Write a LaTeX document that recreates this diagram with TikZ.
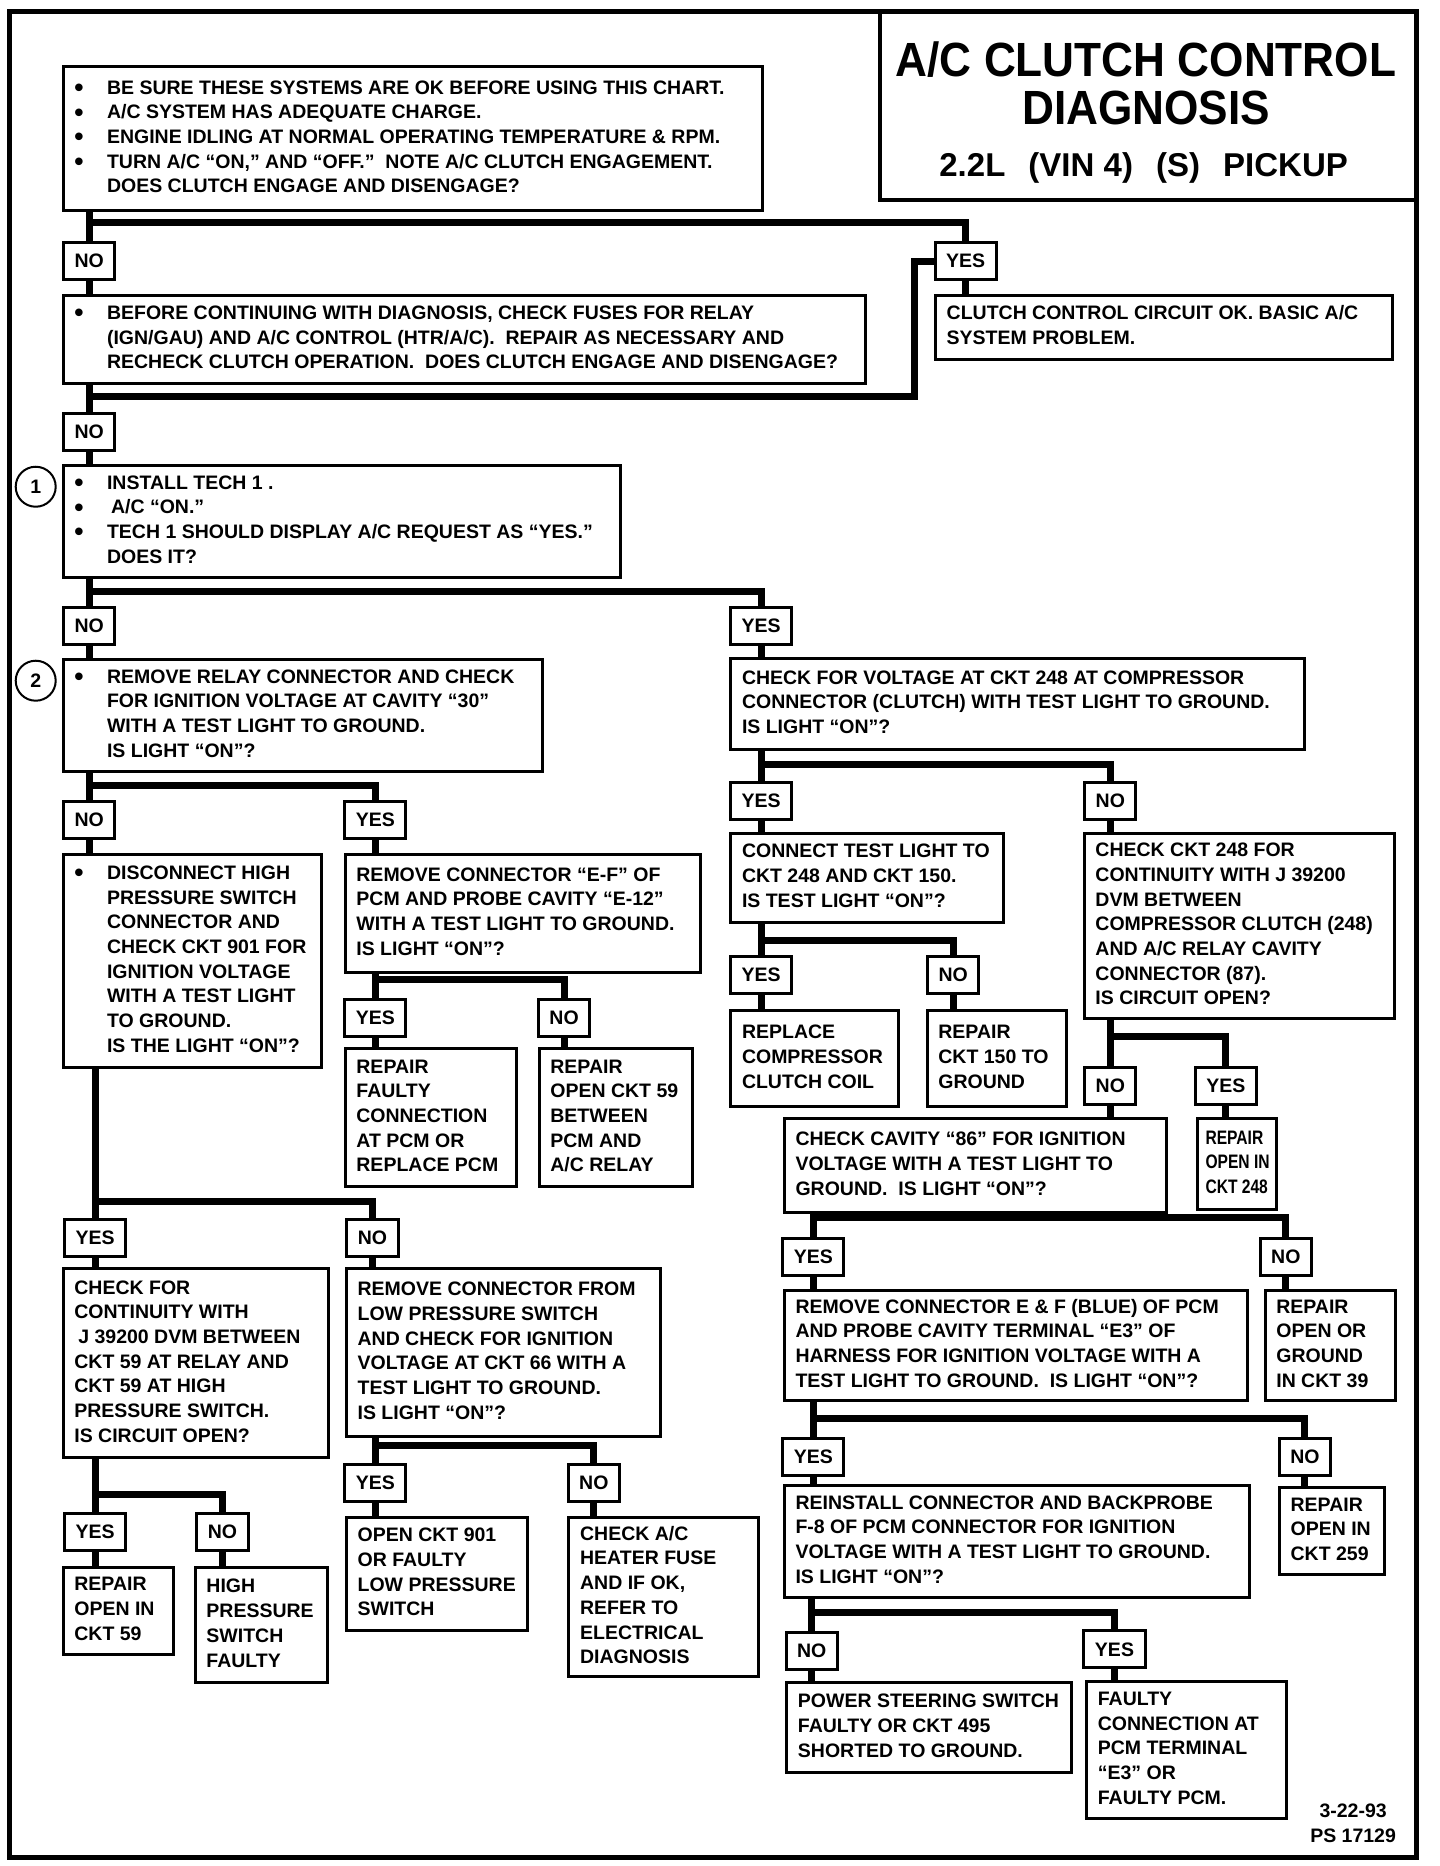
\documentclass[tikz,border=0pt]{standalone}
\usepackage{fontspec}
\setmainfont{Liberation Sans}
\newfontfamily\titlefont{Liberation Sans}[FakeStretch=0.92]
\newfontfamily\narrowfont{Liberation Sans}[FakeStretch=0.8]
\newcommand\nr[1]{{\narrowfont\bfseries #1}}
\newcommand\bl{\makebox[32.7pt][l]{\raisebox{-0.12em}{\scalebox{1.35}{\textbullet}}}}
\newcommand\ind{\hspace*{32.7pt}}
\newcommand\bx[6]{%
  \pgfmathsetmacro\bxw{(#4-#2)*1.19008}%
  \pgfmathsetmacro\bxh{(#5-#3)*1.19008}%
  \pgfmathsetmacro\bxt{\bxw-2*11.3}%
  \node[box,minimum width=\bxw pt,minimum height=\bxh pt] (#1) at ({(#2+#4)/2},{(#3+#5)/2})
    {\makebox[\bxt pt][l]{\begin{tabular}{@{}l@{}}#6\end{tabular}}};%
}
\newcommand\lbl[4]{\node[lab] (#1) at (#2,#3) {#4};}
\tikzset{
  box/.style={draw, line width=3pt, inner xsep=11.3pt, inner ysep=0pt, fill=white,
    font=\fontsize{19.5}{24.7}\selectfont\bfseries},
  lab/.style={draw, line width=3pt, inner xsep=11pt, inner ysep=0pt, minimum height=37pt,
    fill=white, font=\fontsize{19.5}{24.7}\selectfont\bfseries},
  conn/.style={line width=7pt},
}
\begin{document}
\begin{tikzpicture}[x=1.19008pt,y=-1.19008pt]
\useasboundingbox (0,0) rectangle (1210,1568);
\fill[white] (0,0) rectangle (1210,1568);
% outer frame and title
\draw[line width=5pt] (8,10) rectangle (1190,1561);
\node[draw, line width=4pt, minimum width=537pt, minimum height=189pt, inner sep=0pt] (titlebox) at (965,88.5) {};
\node[font=\titlefont\fontsize{48}{50}\selectfont\bfseries, inner sep=0pt] (tt1) at (963,50) {A/C CLUTCH CONTROL};
\node[font=\titlefont\fontsize{48}{50}\selectfont\bfseries, inner sep=0pt] (tt2) at (963,91) {DIAGNOSIS};
\node[font=\fontsize{33}{36}\selectfont\bfseries, inner sep=0pt] (tt3) at (961,141) {2.2L\hspace{0.7em}(VIN 4)\hspace{0.7em}(S)\hspace{0.7em}PICKUP};

% boxes
\bx{b1}{53}{56}{641}{177}{\bl BE SURE THESE SYSTEMS ARE OK BEFORE USING THIS CHART.\\
\bl A/C SYSTEM HAS ADEQUATE CHARGE.\\
\bl ENGINE IDLING AT NORMAL OPERATING TEMPERATURE \& RPM.\\
\bl TURN A/C “ON,” AND “OFF.”\ \ NOTE A/C CLUTCH ENGAGEMENT.\\
\ind DOES CLUTCH ENGAGE AND DISENGAGE?}
\bx{b2}{53}{248}{727}{322}{\bl BEFORE CONTINUING WITH DIAGNOSIS, CHECK FUSES FOR RELAY\\
\ind (IGN/GAU) AND A/C CONTROL (HTR/A/C).\ \ REPAIR AS NECESSARY AND\\
\ind RECHECK CLUTCH OPERATION.\ \ DOES CLUTCH ENGAGE AND DISENGAGE?}
\bx{ok}{786}{248}{1170}{302}{CLUTCH CONTROL CIRCUIT OK. BASIC A/C\\SYSTEM PROBLEM.}
\bx{b3}{53}{391}{521}{485}{\bl INSTALL TECH 1 .\\
\bl\hspace{4pt}A/C “ON.”\\
\bl TECH 1 SHOULD DISPLAY A/C REQUEST AS “YES.”\\
\ind DOES IT?}
\bx{b4}{53}{554}{456}{648}{\bl REMOVE RELAY CONNECTOR AND CHECK\\
\ind FOR IGNITION VOLTAGE AT CAVITY “30”\\
\ind WITH A TEST LIGHT TO GROUND.\\
\ind IS LIGHT “ON”?}
\bx{b5}{53}{718}{270}{897}{\bl DISCONNECT HIGH\\
\ind PRESSURE SWITCH\\
\ind CONNECTOR AND\\
\ind CHECK CKT 901 FOR\\
\ind IGNITION VOLTAGE\\
\ind WITH A TEST LIGHT\\
\ind TO GROUND.\\
\ind IS THE LIGHT “ON”?}
\bx{b6}{290}{718}{589}{817}{REMOVE CONNECTOR “E-F” OF\\PCM AND PROBE CAVITY “E-12”\\WITH A TEST LIGHT TO GROUND.\\IS LIGHT “ON”?}
\bx{b7}{290}{881}{434}{997}{REPAIR\\FAULTY\\CONNECTION\\AT PCM OR\\REPLACE PCM}
\bx{b8}{453}{881}{582}{997}{REPAIR\\OPEN CKT 59\\BETWEEN\\PCM AND\\A/C RELAY}
\bx{b9}{53}{1066}{276}{1225}{CHECK FOR\\CONTINUITY WITH\\\hspace{4pt}J 39200 DVM BETWEEN\\CKT 59 AT RELAY AND\\CKT 59 AT HIGH\\PRESSURE SWITCH.\\IS CIRCUIT OPEN?}
\bx{b10}{291}{1066}{555}{1207}{REMOVE CONNECTOR FROM\\LOW PRESSURE SWITCH\\AND CHECK FOR IGNITION\\VOLTAGE AT CKT 66 WITH A\\TEST LIGHT TO GROUND.\\IS LIGHT “ON”?}
\bx{b11}{53}{1317}{146}{1390}{REPAIR\\OPEN IN\\CKT 59}
\bx{b12}{164}{1317}{275}{1414}{HIGH\\PRESSURE\\SWITCH\\FAULTY}
\bx{b13}{291}{1275}{443}{1370}{OPEN CKT 901\\OR FAULTY\\LOW PRESSURE\\SWITCH}
\bx{b14}{478}{1275}{637}{1409}{CHECK A/C\\HEATER FUSE\\AND IF OK,\\REFER TO\\ELECTRICAL\\DIAGNOSIS}
\bx{b15}{614}{553}{1096}{630}{CHECK FOR VOLTAGE AT CKT 248 AT COMPRESSOR\\CONNECTOR (CLUTCH) WITH TEST LIGHT TO GROUND.\\IS LIGHT “ON”?}
\bx{b16}{614}{700}{843}{775}{CONNECT TEST LIGHT TO\\CKT 248 AND CKT 150.\\IS TEST LIGHT “ON”?}
\bx{b17}{911}{700}{1172}{856}{CHECK CKT 248 FOR\\CONTINUITY WITH J 39200\\DVM BETWEEN\\COMPRESSOR CLUTCH (248)\\AND A/C RELAY CAVITY\\CONNECTOR (87).\\IS CIRCUIT OPEN?}
\bx{b18}{614}{849}{755}{930}{REPLACE\\COMPRESSOR\\CLUTCH COIL}
\bx{b19}{779}{849}{896}{930}{REPAIR\\CKT 150 TO\\GROUND}
\bx{b20}{659}{940}{980}{1019}{CHECK CAVITY “86” FOR IGNITION\\VOLTAGE WITH A TEST LIGHT TO\\GROUND.\ \ IS LIGHT “ON”?}
\bx{b21}{1006}{940}{1073}{1016}{\hspace{-3pt}\nr{REPAIR}\\\hspace{-3pt}\nr{OPEN IN}\\\hspace{-3pt}\nr{CKT 248}}
\bx{b22}{659}{1084}{1048}{1177}{REMOVE CONNECTOR E \& F (BLUE) OF PCM\\AND PROBE CAVITY TERMINAL “E3” OF\\HARNESS FOR IGNITION VOLTAGE WITH A\\TEST LIGHT TO GROUND.\ \ IS LIGHT “ON”?}
\bx{b23}{1063}{1084}{1173}{1177}{REPAIR\\OPEN OR\\GROUND\\IN CKT 39}
\bx{b24}{659}{1248}{1050}{1342}{REINSTALL CONNECTOR AND BACKPROBE\\F-8 OF PCM CONNECTOR FOR IGNITION\\VOLTAGE WITH A TEST LIGHT TO GROUND.\\IS LIGHT “ON”?}
\bx{b25}{1075}{1250}{1163}{1323}{REPAIR\\OPEN IN\\CKT 259}
\bx{b26}{661}{1414}{900}{1489}{POWER STEERING SWITCH\\FAULTY OR CKT 495\\SHORTED TO GROUND.}
\bx{b27}{913}{1413}{1081}{1528}{FAULTY\\CONNECTION AT\\PCM TERMINAL\\“E3” OR\\FAULTY PCM.}

% labels
\lbl{n1}{75}{219.5}{NO}
\lbl{y1}{811.5}{219.5}{YES}
\lbl{n2}{75}{363}{NO}
\lbl{n3}{75}{526}{NO}
\lbl{y3}{639.5}{526}{YES}
\lbl{n4}{75}{689}{NO}
\lbl{y4}{315.5}{689}{YES}
\lbl{y6}{315.5}{855}{YES}
\lbl{n6}{474}{855}{NO}
\lbl{y5}{80}{1040}{YES}
\lbl{n5}{313}{1040}{NO}
\lbl{y9}{80}{1287}{YES}
\lbl{n9}{187}{1287}{NO}
\lbl{y10}{315.5}{1246}{YES}
\lbl{n10}{499}{1246}{NO}
\lbl{y15}{639.5}{673}{YES}
\lbl{n15}{933}{673}{NO}
\lbl{y16}{639.5}{819}{YES}
\lbl{n16}{801}{819}{NO}
\lbl{n17}{933}{912.5}{NO}
\lbl{y17}{1030}{912.5}{YES}
\lbl{y20}{683.5}{1056}{YES}
\lbl{n20}{1080.5}{1056}{NO}
\lbl{y22}{683.5}{1224}{YES}
\lbl{n22}{1096.5}{1224}{NO}
\lbl{n24}{682}{1387}{NO}
\lbl{y24}{936.5}{1386}{YES}

% step circles
\node[draw, circle, line width=2pt, minimum size=40pt, inner sep=0pt, font=\fontsize{19.5}{24}\selectfont\bfseries] (c1) at (30,409) {1};
\node[draw, circle, line width=2pt, minimum size=40pt, inner sep=0pt, font=\fontsize{19.5}{24}\selectfont\bfseries] (c2) at (30,572) {2};

% footer
\node[align=center, inner sep=0pt, font=\fontsize{19.5}{24.7}\selectfont\bfseries] (foot) at (1137,1532) {3-22-93\\PS 17129};

% connectors
\draw[conn] (b1.south -| n1) -- (n1.north);
\draw[conn] (n1.north |- 0,187) -| (y1.north);
\draw[conn] (n1.south) -- (b2.north -| n1);
\draw[conn] (y1.south) -- (ok.north -| y1);
\draw[conn] (b2.south -| n2) -- (n2.north);
\draw[conn] (n2.north |- 0,333) -| ([xshift=-19pt]y1.west) -- (y1.west);
\draw[conn] (n2.south) -- (b3.north -| n2);
\draw[conn] (b3.south -| n3) -- (n3.north);
\draw[conn] (n3.north |- 0,497) -| (y3.north);
\draw[conn] (n3.south) -- (b4.north -| n3);
\draw[conn] (y3.south) -- (b15.north -| y3);
\draw[conn] (b4.south -| n4) -- (n4.north);
\draw[conn] (n4.north |- 0,660) -| (y4.north);
\draw[conn] (n4.south) -- (b5.north -| n4);
\draw[conn] (y4.south) -- (b6.north -| y4);
\draw[conn] (b6.south -| y6) -- (y6.north);
\draw[conn] (y6.north |- 0,823) -| (n6.north);
\draw[conn] (y6.south) -- (b7.north -| y6);
\draw[conn] (n6.south) -- (b8.north -| n6);
\draw[conn] (b5.south -| y5) -- (y5.north);
\draw[conn] (y5.north |- 0,1010) -| (n5.north);
\draw[conn] (y5.south) -- (b9.north -| y5);
\draw[conn] (n5.south) -- (b10.north -| n5);
\draw[conn] (b9.south -| y9) -- (y9.north);
\draw[conn] (y9.north |- 0,1256) -| (n9.north);
\draw[conn] (y9.south) -- (b11.north -| y9);
\draw[conn] (n9.south) -- (b12.north -| n9);
\draw[conn] (b10.south -| y10) -- (y10.north);
\draw[conn] (y10.north |- 0,1215) -| (n10.north);
\draw[conn] (y10.south) -- (b13.north -| y10);
\draw[conn] (n10.south) -- (b14.north -| n10);
\draw[conn] (b15.south -| y15) -- (y15.north);
\draw[conn] (y15.north |- 0,642) -| (n15.north);
\draw[conn] (y15.south) -- (b16.north -| y15);
\draw[conn] (n15.south) -- (b17.north -| n15);
\draw[conn] (b16.south -| y16) -- (y16.north);
\draw[conn] (y16.north |- 0,790) -| (n16.north);
\draw[conn] (y16.south) -- (b18.north -| y16);
\draw[conn] (n16.south) -- (b19.north -| n16);
\draw[conn] (b17.south -| n17) -- (n17.north);
\draw[conn] (n17.north |- 0,871) -| (y17.north);
\draw[conn] (n17.south) -- (b20.north -| n17);
\draw[conn] (y17.south) -- (b21.north -| y17);
\draw[conn] (b20.south -| y20) -- (y20.north);
\draw[conn] (y20.north |- 0,1023) -| (n20.north);
\draw[conn] (y20.south) -- (b22.north -| y20);
\draw[conn] (n20.south) -- (b23.north -| n20);
\draw[conn] (b22.south -| y22) -- (y22.north);
\draw[conn] (y22.north |- 0,1192) -| (n22.north);
\draw[conn] (y22.south) -- (b24.north -| y22);
\draw[conn] (n22.south) -- (b25.north -| n22);
\draw[conn] (b24.south -| n24) -- (n24.north);
\draw[conn] (n24.north |- 0,1355) -| (y24.north);
\draw[conn] (n24.south) -- (b26.north -| n24);
\draw[conn] (y24.south) -- (b27.north -| y24);
\end{tikzpicture}
\end{document}
